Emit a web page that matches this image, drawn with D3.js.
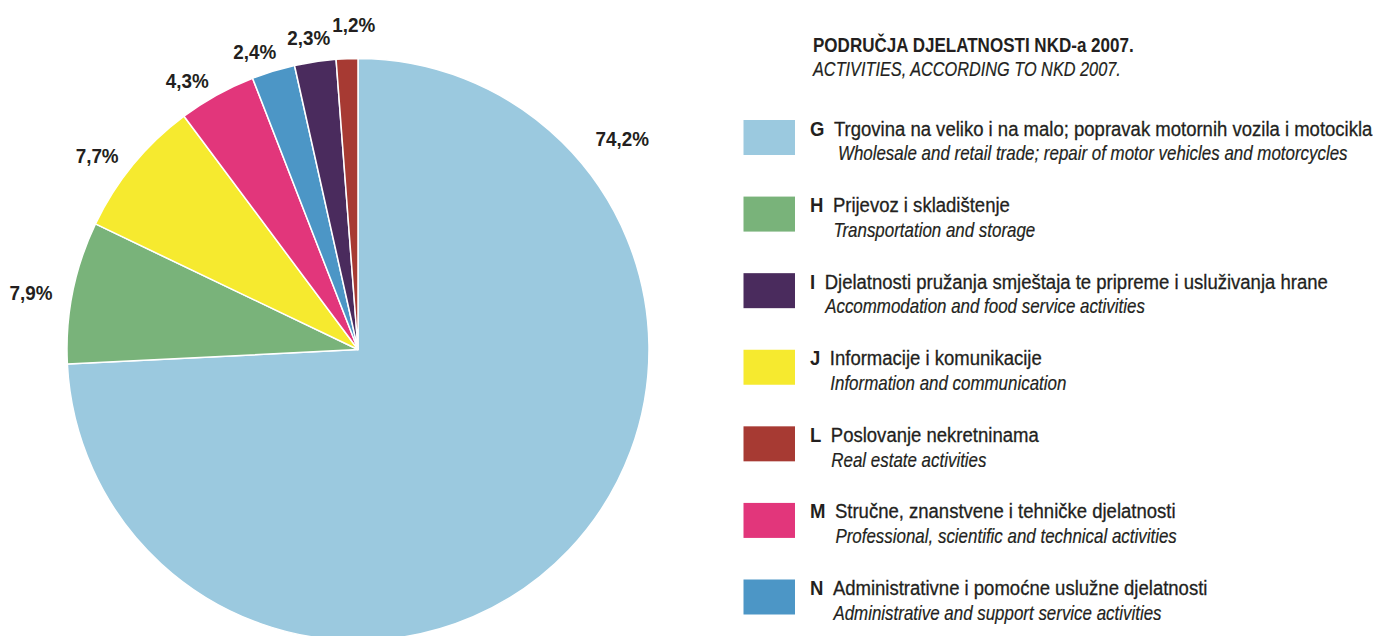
<!DOCTYPE html>
<html><head><meta charset="utf-8">
<script src="https://cdn.jsdelivr.net/npm/d3@7"></script>
<style>
body{margin:0;background:#fff;}
text{font-family:"Liberation Sans",Arial,Helvetica,sans-serif;fill:#231f20;}
</style></head><body>
<svg id="chart" width="1374" height="636"></svg>
<script>
// Pie slices, clockwise from 12 o'clock
const sliceCodes = ["G","H","J","M","N","I","L"];
const sliceValues = [74.2, 7.9, 7.7, 4.3, 2.4, 2.3, 1.2];
const sliceLabels = ["74,2%","7,9%","7,7%","4,3%","2,4%","2,3%","1,2%"];
// Legend
const legendCodes = ["G","H","I","J","L","M","N"];
const legendNames = [
  "Trgovina na veliko i na malo; popravak motornih vozila i motocikla",
  "Prijevoz i skladištenje",
  "Djelatnosti pružanja smještaja te pripreme i usluživanja hrane",
  "Informacije i komunikacije",
  "Poslovanje nekretninama",
  "Stručne, znanstvene i tehničke djelatnosti",
  "Administrativne i pomoćne uslužne djelatnosti"
];
const legendNamesEn = [
  "Wholesale and retail trade; repair of motor vehicles and motorcycles",
  "Transportation and storage",
  "Accommodation and food service activities",
  "Information and communication",
  "Real estate activities",
  "Professional, scientific and technical activities",
  "Administrative and support service activities"
];
const titleHr = "PODRUČJA DJELATNOSTI NKD-a 2007.";
const titleEn = "ACTIVITIES, ACCORDING TO NKD 2007.";

const colors = {G:"#9bc9df",H:"#79b37a",I:"#4a2b5d",J:"#f6ea2f",L:"#a73a33",M:"#e2367b",N:"#4c96c6"};

const svg = d3.select("#chart");

// measure helper for condensed look (horizontal squeeze)
function measure(str, size, weight, style){
  const t = svg.append("text").attr("font-size",size).attr("font-weight",weight||"normal")
    .attr("font-style",style||"normal").text(str);
  const w = t.node().getComputedTextLength(); t.remove(); return w;
}
function ctext(parent, x, y, str, size, weight, style, k, anchor, sw){
  const g = parent.append("g").attr("transform",`translate(${x},${y}) scale(${k},1)`);
  const t = g.append("text").attr("font-size",size).attr("font-weight",weight||"normal")
   .attr("font-style",style||"normal").attr("text-anchor",anchor||"start").text(str);
  if(sw) t.attr("stroke","#231f20").attr("stroke-width",sw);
  return g;
}

const FS = 20;
const kLabel = 43 / measure("2,4%",20,"bold");
const kName = 538.7 / measure(legendNames[0],FS);
const kIt = 510 / measure(legendNamesEn[0],FS,"normal","italic");
const kLetter = kName;
const kTitle = 321 / measure(titleHr,20,"bold");
const kTitleIt = 308 / measure(titleEn,20,"normal","italic");

const cx = 358, cy = 349.5, R = 291;
const data = sliceCodes.map((c,i)=>({code:c,value:sliceValues[i],label:sliceLabels[i]}));
const pie = d3.pie().sort(null).value(d=>d.value);
const arcs = pie(data);
const arc = d3.arc().innerRadius(0).outerRadius(R);

const g = svg.append("g").attr("transform",`translate(${cx},${cy})`);
g.selectAll("path").data(arcs).join("path")
  .attr("d",arc)
  .attr("fill",d=>colors[d.data.code])
  .attr("stroke","#fff").attr("stroke-width",1.5).attr("stroke-linejoin","round");

// label placement: radius and angular nudge (degrees) per slice
const labelR = {G:338,H:332,J:325,M:319,N:315,I:316,L:325};
const labelNudge = {H:-1.4,J:-2.8,M:-3.4,N:-2.2,I:-0.5,L:1.4};
arcs.forEach(d=>{
  let a = (d.startAngle+d.endAngle)/2;
  if(d.data.code==="G") a = d.startAngle + (d.endAngle-d.startAngle)*0.1925;
  else a += (labelNudge[d.data.code]||0)*Math.PI/180;
  const r = labelR[d.data.code];
  ctext(g, r*Math.sin(a), -r*Math.cos(a)+7.5, d.data.label, 20, "bold", "normal", kLabel, "middle");
});

// title
ctext(svg, 813, 52, titleHr, 20, "bold", "normal", kTitle);
ctext(svg, 813, 75.5, titleEn, 20, "normal", "italic", kTitleIt, "start", 0.2);

// legend
const ly = d3.scalePoint().domain(legendCodes).range([120,579.5]);
legendCodes.forEach((code,i)=>{
  const s = svg.append("g").attr("transform",`translate(0,${ly(code)})`);
  s.append("rect").attr("x",743.5).attr("y",0).attr("width",51.5).attr("height",35).attr("fill",colors[code]);
  ctext(s, 810, 15.5, code, FS, "bold", "normal", kLetter);
  const lw = measure(code,FS,"bold")*kLetter;
  const nx = 810 + lw + 9.5;
  ctext(s, nx, 15.5, legendNames[i], FS, "normal", "normal", kName, "start", 0.3);
  ctext(s, nx + (code==="G"?4:0.5), 40.3, legendNamesEn[i], FS, "normal", "italic", kIt, "start", 0.2);
});
</script>
</body></html>
